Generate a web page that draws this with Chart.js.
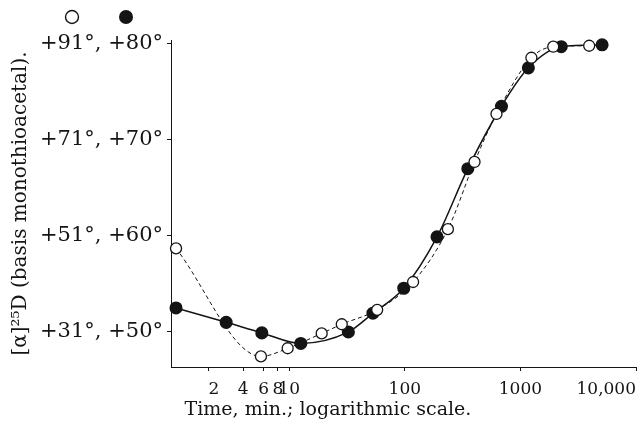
<!DOCTYPE html>
<html>
<head>
<meta charset="utf-8">
<script src="https://cdn.jsdelivr.net/npm/chart.js@4"></script>
<style>
  html, body { margin: 0; padding: 0; background: #fff; }
  #wrap { width: 644px; height: 427px; position: relative; }
</style>
</head>
<body>
<div id="wrap"><canvas id="chart"></canvas></div>
<script>
// filled circles: degrees on the right-hand scale (+50 .. +80)
const filledTimes  = [1.05, 2.85, 5.8, 12.6, 32.5, 53, 98, 190, 351, 686, 1172, 2255, 5090];
const filledValues = [52.5, 51.0, 49.9, 48.8, 50.0, 51.95, 54.55, 59.9, 67.0, 73.5, 77.5, 79.7, 79.9];

// open circles: degrees on the left-hand scale (+31 .. +91)
const openTimes  = [1.05, 5.7, 9.7, 19.1, 28.5, 57.7, 118, 236, 401, 621, 1245, 1924, 3936];
const openValues = [48.4, 25.9, 27.6, 30.7, 32.6, 35.6, 41.4, 52.4, 66.4, 76.4, 88.1, 90.4, 90.6];

// tick labels
const xTickValues = [2, 4, 6, 8, 10, 100, 1000, 10000];
const xTickLabels = ['2', '4', '6', '8', '10', '100', '1000', '10,000'];
const yTickValues = [50, 60, 70, 80];
const yTickLabels = ['+31°, +50°', '+51°, +60°', '+71°, +70°', '+91°, +80°'];

const xTitle = 'Time, min.; logarithmic scale.';
const yTitle = '[α]²⁵D (basis monothioacetal).';

const ink = '#141414';

// left scale relates to right scale as open = 2*filled - 69
const yMin = 46.35, yMax = 80.4;

// legend circles above the tick labels and the x title (sits left of centre in the original)
const extras = {
  id: 'extras',
  afterDraw(chart) {
    const c = chart.ctx;
    c.save();
    c.lineWidth = 1.4;
    c.strokeStyle = ink;
    c.fillStyle = '#fff';
    c.beginPath(); c.arc(72, 17, 6.5, 0, Math.PI * 2); c.fill(); c.stroke();
    c.fillStyle = ink;
    c.beginPath(); c.arc(126, 17, 7, 0, Math.PI * 2); c.fill();

    c.font = '19px "DejaVu Serif"';
    c.textAlign = 'center';
    c.textBaseline = 'middle';
    c.fillText(xTitle, 328, 410);
    c.restore();
  }
};

new Chart(document.getElementById('chart'), {
  type: 'line',
  data: {
    datasets: [
      {
        label: 'open',
        data: openTimes.map((t, i) => ({ x: t, y: openValues[i] })),
        yAxisID: 'y2',
        borderColor: ink,
        borderWidth: 1,
        borderDash: [4, 3],
        backgroundColor: '#fff',
        pointBackgroundColor: '#fff',
        pointBorderColor: ink,
        pointBorderWidth: 1.3,
        pointRadius: 5.5,
        cubicInterpolationMode: 'monotone',
        clip: false,
        order: 1
      },
      {
        label: 'filled',
        data: filledTimes.map((t, i) => ({ x: t, y: filledValues[i] })),
        yAxisID: 'y',
        borderColor: ink,
        borderWidth: 1.5,
        backgroundColor: ink,
        pointBackgroundColor: ink,
        pointBorderColor: ink,
        pointRadius: 5.8,
        cubicInterpolationMode: 'monotone',
        clip: false,
        order: 2
      }
    ]
  },
  options: {
    responsive: true,
    maintainAspectRatio: false,
    animation: false,
    events: [],
    layout: { padding: { top: 40, right: 6, left: 0, bottom: 0 } },
    plugins: { legend: { display: false }, tooltip: { enabled: false } },
    scales: {
      x: {
        type: 'logarithmic',
        min: 0.95,
        max: 10000,
        afterBuildTicks(scale) { scale.ticks = xTickValues.map(v => ({ value: v })); },
        afterFit(scale) { scale.height = 60; },
        ticks: {
          align: 'inner',
          autoSkip: false,
          maxRotation: 0,
          padding: 8,
          color: ink,
          font: { family: 'DejaVu Serif', size: 17 },
          callback: (v) => xTickLabels[xTickValues.indexOf(v)]
        },
        grid: { drawOnChartArea: false, tickLength: 4, color: ink },
        border: { color: ink, width: 1 },
        title: { display: false }
      },
      y: {
        position: 'left',
        min: yMin,
        max: yMax,
        afterBuildTicks(scale) { scale.ticks = yTickValues.map(v => ({ value: v })); },
        afterFit(scale) { scale.width = 171; },
        ticks: {
          padding: 4,
          color: ink,
          font: { family: 'DejaVu Serif', size: 21 },
          callback: (v) => yTickLabels[yTickValues.indexOf(v)]
        },
        grid: { drawOnChartArea: false, tickLength: 4, color: ink },
        border: { color: ink, width: 1 },
        title: {
          display: true,
          text: yTitle,
          color: ink,
          font: { family: 'DejaVu Serif', size: 20 },
          padding: { top: 9, bottom: 0 }
        }
      },
      y2: {
        display: false,
        min: 2 * yMin - 69,
        max: 2 * yMax - 69
      }
    }
  },
  plugins: [extras]
});
</script>
</body>
</html>
